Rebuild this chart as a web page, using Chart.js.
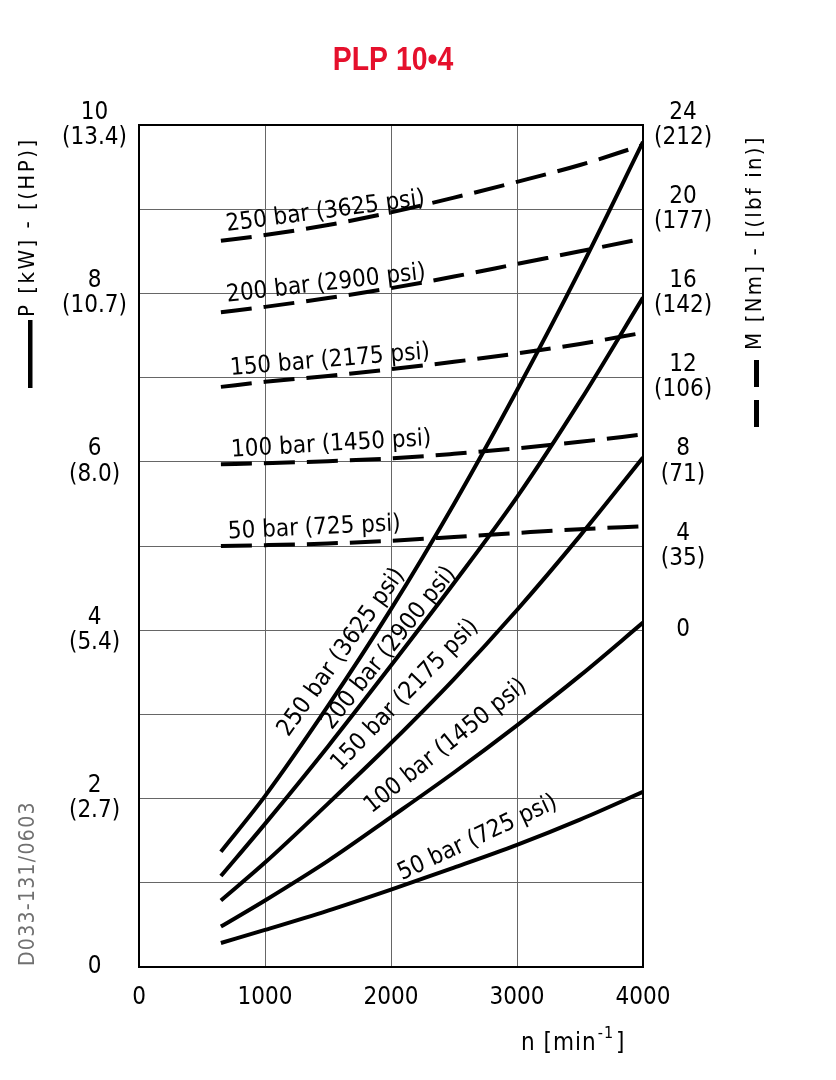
<!DOCTYPE html>
<html>
<head>
<meta charset="utf-8">
<title>PLP 10•4</title>
<script src="https://cdn.jsdelivr.net/npm/chart.js"></script>
<style>
  html, body { margin: 0; padding: 0; background: #fff; }
</style>
</head>
<body>
<canvas id="plp" width="836" height="1080"></canvas>
<script>
// speed n [min-1]
const speeds = [650, 1000, 1500, 2000, 2500, 3000, 3500, 4000];
const pressureBar = [250, 200, 150, 100, 50];
const pressurePsi = [3625, 2900, 2175, 1450, 725];

// power P [kW], solid curves
const power250 = [1.37, 2.03, 3.1, 4.25, 5.5, 6.85, 8.28, 9.8];
const power200 = [1.08, 1.70, 2.62, 3.58, 4.56, 5.58, 6.72, 7.95];
const power150 = [0.79, 1.24, 1.94, 2.66, 3.42, 4.24, 5.12, 6.05];
const power100 = [0.48, 0.79, 1.26, 1.78, 2.31, 2.87, 3.46, 4.09];
const power50 = [0.285, 0.44, 0.67, 0.92, 1.18, 1.45, 1.75, 2.08];

// torque M [Nm], dashed curves
const torque250 = [18.5, 18.77, 19.25, 19.85, 20.55, 21.3, 22.1, 23.05];
const torque200 = [15.1, 15.36, 15.78, 16.25, 16.8, 17.4, 18.0, 18.6];
const torque150 = [11.56, 11.8, 12.08, 12.4, 12.75, 13.15, 13.6, 14.13];
const torque100 = [7.88, 7.93, 8.03, 8.16, 8.38, 8.64, 8.95, 9.3];
const torque50 = [4.0, 4.04, 4.12, 4.25, 4.43, 4.62, 4.8, 4.94];

// tick labels
const kwTicks = [0, 2, 4, 6, 8, 10];
const hpTicks = ['', '(2.7)', '(5.4)', '(8.0)', '(10.7)', '(13.4)'];
const nmTicks = [0, 4, 8, 12, 16, 20, 24];
const lbfinTicks = ['', '(35)', '(71)', '(106)', '(142)', '(177)', '(212)'];

// where the curve names sit: [n, value, angle in degrees]
const powerLabelAt = [[1185, 2.725, -54.4], [1529, 2.81, -51.5], [1595, 2.32, -46], [1846, 1.82, -38.7], [2087, 1.03, -25]];
const torqueLabelAt = [[698, 18.96, -7.5], [701, 15.6, -6.7], [728, 12.12, -4.8], [735, 8.24, -3.4], [708, 4.36, -2.7]];

const FAMILY = '"DejaVu Sans Condensed", "DejaVu Sans", sans-serif';

function series(values, axis, dashed) {
  return {
    data: speeds.map((n, i) => ({ x: n, y: values[i] })),
    yAxisID: axis,
    borderColor: '#000',
    borderWidth: 4,
    borderDash: dashed ? [31, 12] : [],
    borderCapStyle: 'butt',
    pointRadius: 0,
    cubicInterpolationMode: 'monotone',
    fill: false
  };
}

function text(ctx, str, x, y, deg, font, spacing, color, align) {
  ctx.save();
  ctx.translate(x, y);
  ctx.rotate(deg * Math.PI / 180);
  ctx.font = font;
  ctx.letterSpacing = spacing || '0px';
  ctx.fillStyle = color || '#000';
  ctx.textAlign = align || 'left';
  ctx.textBaseline = 'alphabetic';
  ctx.fillText(str, 0, 0);
  ctx.restore();
}

const labelNames = pressureBar.map((b, i) => b + ' bar (' + pressurePsi[i] + ' psi)');

const decor = {
  id: 'decor',
  afterDatasetsDraw(chart) {
    const ctx = chart.ctx;
    const { x, y, y2 } = chart.scales;
    const f = '24px ' + FAMILY;
    powerLabelAt.forEach((p, i) => {
      text(ctx, labelNames[i], x.getPixelForValue(p[0]), y.getPixelForValue(p[1]), p[2], f);
    });
    torqueLabelAt.forEach((p, i) => {
      text(ctx, labelNames[i], x.getPixelForValue(p[0]), y2.getPixelForValue(p[1]), p[2], f);
    });
  },
  afterDraw(chart) {
    const ctx = chart.ctx;
    const a = chart.chartArea;
    ctx.save();
    ctx.strokeStyle = '#000';
    ctx.lineWidth = 2;
    ctx.strokeRect(a.left, a.top, a.right - a.left, a.bottom - a.top);

    // title, condensed bold
    ctx.save();
    ctx.translate(393, 70);
    ctx.scale(0.86, 1);
    text(ctx, 'PLP 10•4', 0, 0, 0, 'bold 33px "Liberation Sans", Arial, sans-serif', '0px', '#e5102c', 'center');
    ctx.restore();

    // left axis title with solid swatch
    ctx.fillStyle = '#000';
    ctx.fillRect(28, 320, 4.5, 68);
    text(ctx, 'P [kW] - [(HP)]', 34, 317, -90, '22px ' + FAMILY, '2.5px');
    // right axis title with dashed swatch
    ctx.fillStyle = '#000';
    ctx.fillRect(754, 360, 5, 27);
    ctx.fillRect(754, 400, 5, 27);
    text(ctx, 'M [Nm] - [(lbf in)]', 761, 350, -90, '22px ' + FAMILY, '2.2px');
    // drawing number
    text(ctx, 'D033-131/0603', 34, 966, -90, '21px ' + FAMILY, '1.3px', '#707070');

    // x axis title n [min-1]
    ctx.font = '24px ' + FAMILY;
    ctx.letterSpacing = '1px';
    let px = 521;
    text(ctx, 'n [min', px, 1050, 0, '24px ' + FAMILY, '1px');
    px += ctx.measureText('n [min').width;
    text(ctx, '-1', px + 1, 1038, 0, '16px ' + FAMILY, '1px');
    ctx.font = '16px ' + FAMILY;
    px += ctx.measureText('-1').width + 3;
    text(ctx, ']', px, 1050, 0, '24px ' + FAMILY);
    ctx.restore();
  }
};

new Chart(document.getElementById('plp'), {
  type: 'line',
  data: {
    datasets: [
      series(power250, 'y', false),
      series(power200, 'y', false),
      series(power150, 'y', false),
      series(power100, 'y', false),
      series(power50, 'y', false),
      series(torque250, 'y2', true),
      series(torque200, 'y2', true),
      series(torque150, 'y2', true),
      series(torque100, 'y2', true),
      series(torque50, 'y2', true)
    ]
  },
  options: {
    responsive: false,
    animation: false,
    devicePixelRatio: 1,
    layout: { padding: { left: 39, right: 93, top: 125, bottom: 53 } },
    plugins: { legend: { display: false }, tooltip: { enabled: false }, title: { display: false } },
    scales: {
      x: {
        type: 'linear',
        min: 0,
        max: 4000,
        afterFit: s => { s.height = 60; },
        border: { display: false },
        grid: { color: '#666', lineWidth: 1, drawTicks: false },
        ticks: {
          stepSize: 1000,
          padding: 16,
          color: '#000',
          font: { family: FAMILY, size: 24 },
          callback: v => String(v)
        }
      },
      y: {
        position: 'left',
        min: 0,
        max: 10,
        afterFit: s => { s.width = 100; },
        border: { display: false },
        grid: { color: '#666', lineWidth: 1, drawTicks: false },
        ticks: {
          stepSize: 1,
          autoSkip: false,
          padding: 12,
          crossAlign: 'center',
          color: '#000',
          font: { family: FAMILY, size: 24, lineHeight: 1.05 },
          callback: v => {
            const i = kwTicks.indexOf(v);
            if (i < 0) return '';
            return hpTicks[i] ? [String(v), hpTicks[i]] : String(v);
          }
        }
      },
      y2: {
        position: 'right',
        min: -16,
        max: 24,
        afterFit: s => { s.width = 100; },
        border: { display: false },
        grid: { display: false, drawTicks: false },
        ticks: {
          stepSize: 4,
          autoSkip: false,
          padding: 11,
          crossAlign: 'center',
          color: '#000',
          font: { family: FAMILY, size: 24, lineHeight: 1.05 },
          callback: v => {
            const i = nmTicks.indexOf(v);
            if (i < 0) return '';
            return lbfinTicks[i] ? [String(v), lbfinTicks[i]] : String(v);
          }
        }
      }
    }
  },
  plugins: [decor]
});
</script>
</body>
</html>
